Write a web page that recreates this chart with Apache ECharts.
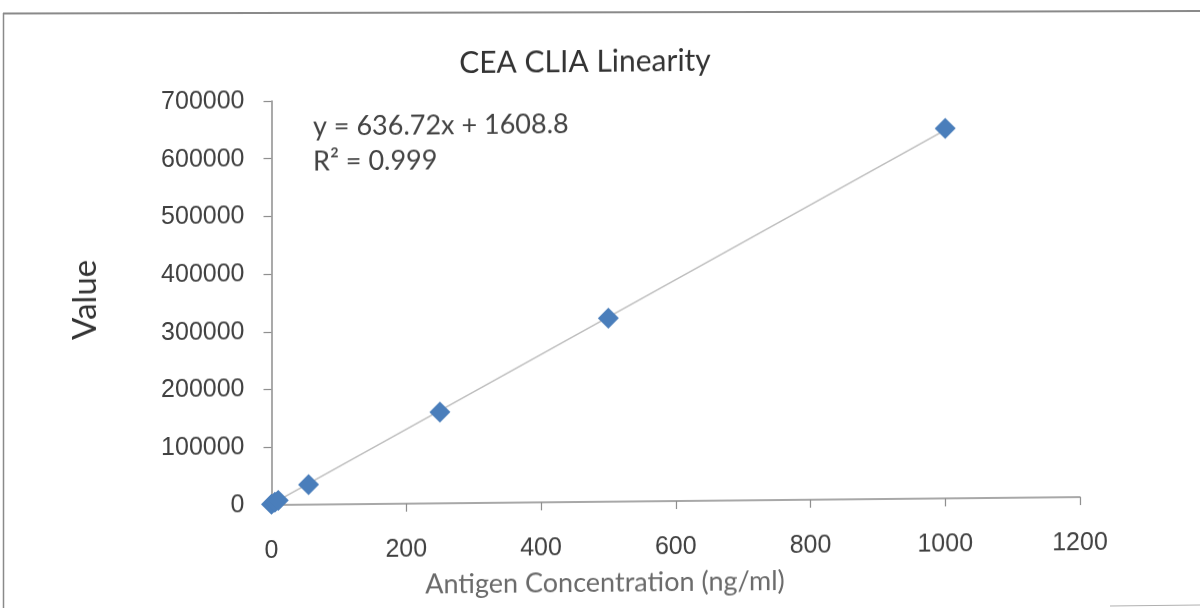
<!DOCTYPE html>
<html><head><meta charset="utf-8">
<script src="https://cdn.jsdelivr.net/npm/echarts@6/dist/echarts.min.js"></script>
<style>
html,body{margin:0;padding:0;background:#fff;overflow:hidden}
#wrap{position:relative;width:1200px;height:608px}
#c{position:absolute;left:0;top:0;width:1200px;height:608px;transform:skewY(-0.56deg);transform-origin:271px 505px}
#frame{position:absolute;left:0;top:0;pointer-events:none}
</style>
</head><body><div id="wrap"><div id="c"></div>
<svg id="frame" width="1200" height="608">
  <line x1="3" y1="13.5" x2="1200" y2="11" stroke="#8a8a8a" stroke-width="2"/>
  <line x1="3.5" y1="13" x2="3.5" y2="608" stroke="#8a8a8a" stroke-width="1.5"/>
  <line x1="1110" y1="606" x2="1200" y2="605" stroke="#b0b0b0" stroke-width="1"/>
</svg></div>
<script>
const concentrations = [0, 5, 10, 55, 250, 500, 1000];
const signalValues = [1500, 4800, 8000, 34500, 158000, 318000, 641000];
const trendSlope = 636.72;
const trendIntercept = 1608.8;
const trendRange = [0, 1000];
const xTicks = [0, 200, 400, 600, 800, 1000, 1200];
const yTicks = [0, 100000, 200000, 300000, 400000, 500000, 600000, 700000];
const titleText = 'CEA CLIA Linearity';
const xAxisTitle = 'Antigen Concentration (ng/ml)';
const yAxisTitle = 'Value';
const eqLines = ['y = 636.72x + 1608.8', 'R² = 0.999'];

const points = concentrations.map((c, i) => [c, signalValues[i]]);
const trend = trendRange.map(x => [x, trendSlope * x + trendIntercept]);

const chart = echarts.init(document.getElementById('c'));
chart.setOption({
  animation: false,
  grid: { left: 271.5, right: 120, top: 101, bottom: 103 },
  xAxis: {
    type: 'value', min: xTicks[0], max: xTicks[xTicks.length - 1], interval: xTicks[1] - xTicks[0],
    axisLine: { show: true, lineStyle: { color: '#8c8c8c', width: 1.5 } },
    axisTick: { show: true, length: 8, lineStyle: { color: '#8c8c8c', width: 1.2 } },
    axisLabel: { margin: 34, fontFamily: 'Liberation Sans', fontSize: 25, color: '#404040', formatter: v => String(v) },
    splitLine: { show: false }
  },
  yAxis: {
    type: 'value', min: yTicks[0], max: yTicks[yTicks.length - 1], interval: yTicks[1] - yTicks[0],
    axisLine: { show: true, lineStyle: { color: '#8c8c8c', width: 1.5 } },
    axisTick: { show: true, length: 8, lineStyle: { color: '#8c8c8c', width: 1.2 } },
    axisLabel: { margin: 27, fontFamily: 'Liberation Sans', fontSize: 25, color: '#404040', formatter: v => String(v) },
    splitLine: { show: false }
  },
  graphic: [
    { type: 'text', x: 585, y: 65, style: { text: titleText, font: '30px Lato', fill: '#333', textAlign: 'center', textVerticalAlign: 'middle' } },
    { type: 'text', x: 605, y: 586, style: { text: xAxisTitle, font: '27px Lato', fill: '#6a6a6a', textAlign: 'center', textVerticalAlign: 'middle' } },
    { type: 'text', x: 85, y: 298, rotation: Math.PI / 2, style: { text: yAxisTitle, font: '33px Lato', fill: '#333', textAlign: 'center', textVerticalAlign: 'middle' } },
    { type: 'text', x: 313, y: 127, style: { text: eqLines[0], font: '27px Lato', fill: '#444', textVerticalAlign: 'middle' } },
    { type: 'text', x: 313, y: 162, style: { text: eqLines[1], font: '27px Lato', fill: '#444', textVerticalAlign: 'middle' } }
  ],
  series: [
    { type: 'line', data: trend, symbol: 'none', lineStyle: { color: '#bdbdbd', width: 1.5 }, z: 2 },
    { type: 'scatter', data: points, symbol: 'diamond', symbolSize: [21, 21],
      itemStyle: { color: '#4a7ebb', opacity: 1 }, z: 3 }
  ]
});
</script></body></html>
